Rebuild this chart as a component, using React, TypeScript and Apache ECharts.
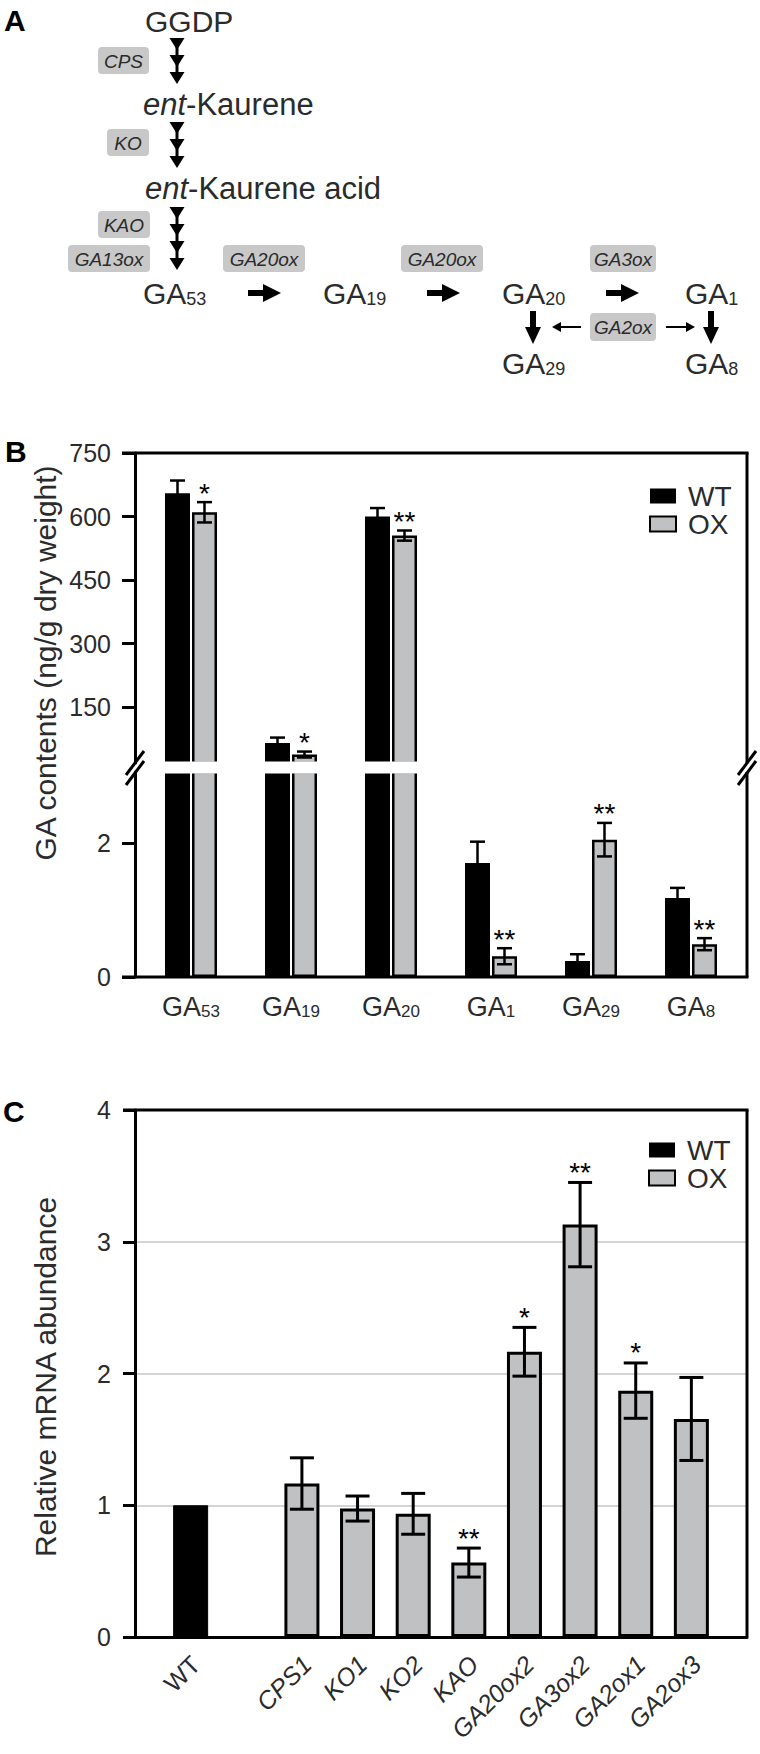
import React, { useEffect, useRef } from 'react';
import * as echarts from 'echarts';

// ---------- Panel B data ----------
const gaCategories = ['GA53', 'GA19', 'GA20', 'GA1', 'GA29', 'GA8'];
const gaWT = [655, 65, 600, 1.7, 0.24, 1.18];
const gaWTErr = [30, 13, 20, 0.32, 0.1, 0.15];
const gaOX = [610, 38, 555, 0.31, 2.05, 0.49];
const gaOXErr = [24, 7, 12, 0.12, 0.25, 0.09];
const gaOXSig = ['*', '*', '**', '**', '**', '**'];
const gaUpperTicks = [150, 300, 450, 600, 750];
const gaLowerTicks = [0, 2];

// ---------- Panel C data ----------
const geneNames = ['CPS1', 'KO1', 'KO2', 'KAO', 'GA20ox2', 'GA3ox2', 'GA2ox1', 'GA2ox3'];
const mrnaWT = 1.0;
const mrnaOX = [1.165, 0.975, 0.935, 0.565, 2.165, 3.13, 1.87, 1.655];
const mrnaOXErr = [0.195, 0.095, 0.155, 0.11, 0.185, 0.32, 0.21, 0.315];
const mrnaOXSig = ['', '', '', '**', '*', '**', '*', ''];
const mrnaTicks = [0, 1, 2, 3, 4];

const FONT = "'Liberation Sans', Arial, Helvetica, sans-serif";
const TXT = '#2b2b2b';
const GRAY = '#c0c1c3';
const BOX = '#c8c8c8';

const UP_MIN = 18;
const UP_MAX = 750;
const LO_MAX = 3.06;
const BAR_OFF = 13.5;

const cCats = ['_a', 'WT', '_b', ...geneNames, '_c'];
const cLabelIdx = cCats.map((c, i) => (c.startsWith('_') ? -1 : i)).filter((i) => i >= 0);

function buildOption() {
  const upItems: any[] = [];
  const loItems: any[] = [];
  gaCategories.forEach((_, i) => {
    const pairs: any[] = [
      [gaWT[i], gaWTErr[i], -BAR_OFF, ''],
      [gaOX[i], gaOXErr[i], BAR_OFF, gaOXSig[i]],
    ];
    pairs.forEach(([v, e, dx, s]) => {
      const it = { i, v, e, dx, s };
      (v > UP_MIN ? upItems : loItems).push(it);
    });
  });

  const cWTData = cCats.map((c) => (c === 'WT' ? mrnaWT : '-'));
  const cOXData = cCats.map((c) => {
    const k = geneNames.indexOf(c);
    return k >= 0 ? mrnaOX[k] : '-';
  });
  const cItems = geneNames.map((g, k) => ({
    i: cCats.indexOf(g),
    v: mrnaOX[k],
    e: mrnaOXErr[k],
    dx: 0,
    s: mrnaOXSig[k],
  }));

  const makeErr = (items: any[], capHalf: number, lw: number, starSize: number, starOff: number) =>
    (params: any, api: any) => {
      const it = items[params.dataIndex];
      const top = api.coord([it.i, it.v + it.e]);
      const bot = api.coord([it.i, it.v - it.e]);
      const x = top[0] + it.dx;
      const st = { stroke: '#000', lineWidth: lw };
      const children: any[] = [
        { type: 'line', shape: { x1: x, y1: top[1], x2: x, y2: bot[1] }, style: st },
        { type: 'line', shape: { x1: x - capHalf, y1: top[1], x2: x + capHalf, y2: top[1] }, style: st },
        { type: 'line', shape: { x1: x - capHalf, y1: bot[1], x2: x + capHalf, y2: bot[1] }, style: st },
      ];
      if (it.s) {
        children.push({
          type: 'text',
          x,
          y: top[1] + starOff,
          style: {
            text: it.s,
            fontSize: starSize,
            fontFamily: FONT,
            fill: '#000',
            align: 'center',
            verticalAlign: 'middle',
          },
        });
      }
      return { type: 'group', children };
    };

  const g: any[] = [];
  const txt = (x: number, y: number, text: string, size: number, extra: any = {}) => ({
    type: 'text',
    x,
    y,
    style: { text, fontSize: size, fontFamily: FONT, fill: TXT, align: 'left', verticalAlign: 'middle', ...extra },
  });
  const box = (x: number, y: number, w: number, h: number, label: string) => {
    g.push({ type: 'rect', shape: { x, y, width: w, height: h, r: 4 }, style: { fill: BOX } });
    g.push(txt(x + w / 2, y + h / 2 + 0.5, label, 19, { fontStyle: 'italic', align: 'center' }));
  };
  const head = (x: number, y: number) => ({
    type: 'polygon',
    shape: { points: [[x - 7.5, y], [x + 7.5, y], [x, y + 12]] },
    style: { fill: '#000' },
  });
  const column = (x: number, tops: number[]) => {
    g.push({ type: 'line', shape: { x1: x, y1: tops[0], x2: x, y2: tops[tops.length - 1] + 4 }, style: { stroke: '#000', lineWidth: 3 } });
    tops.forEach((t) => g.push(head(x, t)));
  };
  const rightArrow = (x0: number, y: number) => {
    g.push({ type: 'rect', shape: { x: x0, y: y - 3, width: 18, height: 6 }, style: { fill: '#000' } });
    g.push({ type: 'polygon', shape: { points: [[x0 + 15, y - 9], [x0 + 33, y], [x0 + 15, y + 9]] }, style: { fill: '#000' } });
  };
  const downArrow = (x: number, y0: number) => {
    g.push({ type: 'rect', shape: { x: x - 3, y: y0, width: 6, height: 18 }, style: { fill: '#000' } });
    g.push({ type: 'polygon', shape: { points: [[x - 8, y0 + 16], [x + 8, y0 + 16], [x, y0 + 33]] }, style: { fill: '#000' } });
  };
  const gaLabel = (x: number, y: number, sub: string) => {
    g.push({
      type: 'text',
      x,
      y,
      style: {
        text: `{g|GA}{s|${sub}}`,
        fontFamily: FONT,
        align: 'left',
        verticalAlign: 'middle',
        rich: {
          g: { fontSize: 30, fontFamily: FONT, fill: TXT, verticalAlign: 'bottom' },
          s: { fontSize: 18, fontFamily: FONT, fill: TXT, verticalAlign: 'bottom' },
        },
      },
    });
  };

  g.push(txt(4, 20, 'A', 30, { fontWeight: 'bold', fill: '#000' }));
  g.push(txt(145, 21, 'GGDP', 30));
  column(177, [38, 55, 72]);
  box(98, 47, 51, 27, 'CPS');
  g.push({
    type: 'text', x: 143, y: 104,
    style: {
      text: '{i|ent}-Kaurene', fontSize: 31, fontFamily: FONT, fill: TXT, align: 'left', verticalAlign: 'middle',
      rich: { i: { fontSize: 31, fontFamily: FONT, fill: TXT, fontStyle: 'italic' } },
    },
  });
  column(177, [122, 139, 156]);
  box(107, 129, 42, 27, 'KO');
  g.push({
    type: 'text', x: 145, y: 188,
    style: {
      text: '{i|ent}-Kaurene acid', fontSize: 31, fontFamily: FONT, fill: TXT, align: 'left', verticalAlign: 'middle',
      rich: { i: { fontSize: 31, fontFamily: FONT, fill: TXT, fontStyle: 'italic' } },
    },
  });
  column(177, [207, 224, 241, 258]);
  box(98, 211, 52, 27, 'KAO');
  box(68, 245, 82, 27, 'GA13ox');
  box(223, 245, 82, 27, 'GA20ox');
  box(401, 245, 82, 27, 'GA20ox');
  box(590, 245, 66, 27, 'GA3ox');
  gaLabel(143, 293, '53');
  gaLabel(323, 293, '19');
  gaLabel(502, 293, '20');
  gaLabel(685, 293, '1');
  rightArrow(248, 293);
  rightArrow(427, 293);
  rightArrow(606, 293);
  downArrow(533, 311);
  downArrow(711, 311);
  box(590, 313, 66, 28, 'GA2ox');
  g.push({ type: 'line', shape: { x1: 581, y1: 327, x2: 558, y2: 327 }, style: { stroke: '#000', lineWidth: 2 } });
  g.push({ type: 'polygon', shape: { points: [[552, 327], [561, 322], [561, 332]] }, style: { fill: '#000' } });
  g.push({ type: 'line', shape: { x1: 666, y1: 327, x2: 689, y2: 327 }, style: { stroke: '#000', lineWidth: 2 } });
  g.push({ type: 'polygon', shape: { points: [[695, 327], [686, 322], [686, 332]] }, style: { fill: '#000' } });
  gaLabel(502, 363, '29');
  gaLabel(685, 363, '8');

  const blk = (lw: number) => ({ stroke: '#000', lineWidth: lw });
  g.push(txt(5, 451, 'B', 30, { fontWeight: 'bold', fill: '#000' }));
  g.push({ type: 'rect', shape: { x: 137, y: 761.5, width: 608.5, height: 12 }, style: { fill: '#fff' } });
  g.push({ type: 'line', shape: { x1: 122, y1: 453, x2: 748.5, y2: 453 }, style: blk(3) });
  g.push({ type: 'line', shape: { x1: 747, y1: 453, x2: 747, y2: 763 }, style: blk(3) });
  g.push({ type: 'line', shape: { x1: 747, y1: 772, x2: 747, y2: 977 }, style: blk(3) });
  g.push({ type: 'line', shape: { x1: 122, y1: 977, x2: 748.5, y2: 977 }, style: blk(3) });
  [135, 747].forEach((cx) => {
    g.push({ type: 'line', shape: { x1: cx - 9, y1: 775, x2: cx + 9, y2: 751 }, style: blk(3) });
    g.push({ type: 'line', shape: { x1: cx - 9, y1: 785, x2: cx + 9, y2: 761 }, style: blk(3) });
  });
  g.push({
    type: 'text', x: 45, y: 663, rotation: Math.PI / 2,
    style: { text: 'GA contents (ng/g dry weight)', fontSize: 30, fontFamily: FONT, fill: TXT, align: 'center', verticalAlign: 'middle' },
  });

  g.push(txt(3, 1111, 'C', 30, { fontWeight: 'bold', fill: '#000' }));
  g.push({ type: 'line', shape: { x1: 123, y1: 1110, x2: 748.5, y2: 1110 }, style: blk(3) });
  g.push({ type: 'line', shape: { x1: 747, y1: 1110, x2: 747, y2: 1637 }, style: blk(3) });
  g.push({
    type: 'text', x: 45, y: 1377, rotation: Math.PI / 2,
    style: { text: 'Relative mRNA abundance', fontSize: 30, fontFamily: FONT, fill: TXT, align: 'center', verticalAlign: 'middle' },
  });

  const graphic = g.map((el) => ({ ...el, z: 100, silent: true }));

  const tickLabel = { fontSize: 25, fontFamily: FONT, color: TXT };
  const axLine = { show: true, lineStyle: { color: '#000', width: 3 } };
  const axTick = (len: number, vals?: number[]) => ({
    show: true, length: len, lineStyle: { color: '#000', width: 3 }, ...(vals ? { customValues: vals } : {}),
  });

  const legendCommon = {
    orient: 'vertical',
    itemWidth: 26,
    itemHeight: 15,
    itemGap: 0,
    icon: 'rect',
    selectedMode: false,
    textStyle: { fontSize: 28, fontFamily: FONT, color: TXT, padding: [0, 0, 0, 7] },
    data: [
      { name: 'WT', itemStyle: { color: '#000', borderColor: '#000', borderWidth: 0 } },
      { name: 'OX', itemStyle: { color: GRAY, borderColor: '#000', borderWidth: 2 } },
    ],
  };

  const wtStyle = { color: '#000', borderColor: '#000', borderWidth: 2 };
  const oxStyle = { color: GRAY, borderColor: '#000', borderWidth: 2.5 };

  return {
    animation: false,
    backgroundColor: '#fff',
    legend: [
      { ...legendCommon, left: 644, top: 477 },
      { ...legendCommon, left: 643, top: 1131 },
    ],
    grid: [
      { left: 141, top: 453, width: 600, height: 310 },
      { left: 141, top: 772, width: 600, height: 205 },
      { left: 135, top: 1110, width: 612, height: 527 },
    ],
    xAxis: [
      { gridIndex: 0, type: 'category', data: gaCategories, show: false },
      {
        gridIndex: 1, type: 'category', data: gaCategories,
        axisLine: { show: false }, axisTick: { show: false },
        axisLabel: {
          margin: 16, interval: 0, fontSize: 27, fontFamily: FONT, color: TXT,
          formatter: (v: string) => `{g|GA}{s|${v.slice(2)}}`,
          rich: {
            g: { fontSize: 27, fontFamily: FONT, color: TXT, verticalAlign: 'bottom' },
            s: { fontSize: 17, fontFamily: FONT, color: TXT, verticalAlign: 'bottom' },
          },
        },
      },
      {
        gridIndex: 2, type: 'category', data: cCats, boundaryGap: false,
        axisLine: { ...axLine, onZero: false }, axisTick: { show: false },
        axisLabel: { show: false },
      },
    ],
    yAxis: [
      {
        gridIndex: 0, type: 'value', min: UP_MIN, max: UP_MAX, offset: 6,
        axisLine: axLine, axisTick: axTick(13, gaUpperTicks),
        axisLabel: { ...tickLabel, margin: 24, customValues: gaUpperTicks },
        splitLine: { show: false },
      },
      {
        gridIndex: 1, type: 'value', min: 0, max: LO_MAX, offset: 6,
        axisLine: axLine, axisTick: axTick(13, gaLowerTicks),
        axisLabel: { ...tickLabel, margin: 24, customValues: gaLowerTicks },
        splitLine: { show: false },
      },
      {
        gridIndex: 2, type: 'value', min: mrnaTicks[0], max: mrnaTicks[mrnaTicks.length - 1], interval: 1,
        axisLine: axLine, axisTick: axTick(12),
        axisLabel: { ...tickLabel, margin: 24 },
        splitLine: { show: true, lineStyle: { color: '#c6c6c6', width: 1.5 } },
      },
    ],
    series: [
      {
        type: 'bar', name: 'WT', xAxisIndex: 0, yAxisIndex: 0, clip: true,
        data: gaWT.map((v) => (v > UP_MIN ? v : '-')), barWidth: 25, barGap: '8%', itemStyle: wtStyle,
      },
      {
        type: 'bar', name: 'OX', xAxisIndex: 0, yAxisIndex: 0, clip: true,
        data: gaOX.map((v) => (v > UP_MIN ? v : '-')), barWidth: 25, barGap: '8%', itemStyle: oxStyle,
      },
      {
        type: 'bar', name: 'WT', xAxisIndex: 1, yAxisIndex: 1, clip: true,
        data: gaWT.map((v) => Math.min(v, 3.2)), barWidth: 25, barGap: '8%', itemStyle: wtStyle,
      },
      {
        type: 'bar', name: 'OX', xAxisIndex: 1, yAxisIndex: 1, clip: true,
        data: gaOX.map((v) => Math.min(v, 3.2)), barWidth: 25, barGap: '8%', itemStyle: oxStyle,
      },
      {
        type: 'custom', name: 'errUp', xAxisIndex: 0, yAxisIndex: 0, silent: true, z: 5,
        data: upItems.map((it) => [it.i, it.v + it.e]),
        renderItem: makeErr(upItems, 7.5, 2.5, 28, -9),
      },
      {
        type: 'custom', name: 'errLo', xAxisIndex: 1, yAxisIndex: 1, silent: true, z: 5,
        data: loItems.map((it) => [it.i, it.v + it.e]),
        renderItem: makeErr(loItems, 7.5, 2.5, 28, -9),
      },
      {
        type: 'bar', name: 'WT', xAxisIndex: 2, yAxisIndex: 2,
        data: cWTData, barWidth: 35, barGap: '-100%', itemStyle: { color: '#000', borderColor: '#000', borderWidth: 1 },
      },
      {
        type: 'bar', name: 'OX', xAxisIndex: 2, yAxisIndex: 2,
        data: cOXData, barWidth: 35, barGap: '-100%', itemStyle: { color: GRAY, borderColor: '#000', borderWidth: 3 },
      },
      {
        type: 'custom', name: 'errC', xAxisIndex: 2, yAxisIndex: 2, silent: true, z: 5,
        data: cItems.map((it) => [it.i, it.v + it.e]),
        renderItem: makeErr(cItems, 12, 3, 28, -10),
      },
    ],
    graphic,
  };
}

export default function App() {
  const ref = useRef<HTMLDivElement>(null);
  useEffect(() => {
    const chart = echarts.init(ref.current as HTMLDivElement, null, { renderer: 'svg' });
    const option: any = buildOption();
    chart.setOption(option);
    // rotated category labels for panel C, positioned through the axis scale
    const labels = cLabelIdx.map((idx) => {
      const name = cCats[idx];
      const p: any = chart.convertToPixel({ gridIndex: 2 } as any, [idx, 0]);
      return {
        type: 'text',
        x: p[0] + 5,
        y: p[1] + 23,
        rotation: Math.PI / 4,
        z: 100,
        silent: true,
        style: {
          text: name,
          fontSize: 25,
          fontFamily: FONT,
          fontStyle: name === 'WT' ? 'normal' : 'italic',
          fill: TXT,
          align: 'right',
          verticalAlign: 'middle',
        },
      };
    });
    chart.setOption({ graphic: [...option.graphic, ...labels] });
    return () => chart.dispose();
  }, []);
  return (
    <div
      ref={ref}
      style={{ position: 'absolute', left: 0, top: 0, width: 760, height: 1754, background: '#fff' }}
    />
  );
}
